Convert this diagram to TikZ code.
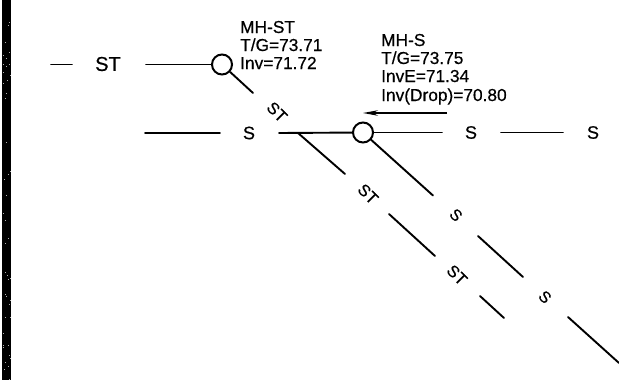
\documentclass[tikz,border=0pt]{standalone}
\usepackage{fontspec}
\setmainfont[FakeBold=0.5]{Liberation Sans}
\usetikzlibrary{arrows.meta}
\newcommand{\lblfont}{\fontsize{17.3}{18.3}\selectfont}
\newcommand{\stfont}{\fontsize{20}{22}\selectfont}
\newcommand{\sfont}{\fontsize{18}{20}\selectfont}
\newcommand{\rotstfont}{\fontsize{16.5}{18}\selectfont}
\newcommand{\rotsfont}{\fontsize{16}{18}\selectfont}
\tikzset{
  pipe/.style={line width=1.9pt,black,line cap=round},
  mh/.style={circle,draw=black,line width=2pt,minimum size=20pt,inner sep=0pt,fill=white},
  tagst/.style={font=\stfont,inner sep=0pt,anchor=center},
  tags/.style={font=\sfont,inner sep=0pt,anchor=center},
  rotst/.style={font=\rotstfont,inner sep=0pt,anchor=center,rotate=-45},
  rots/.style={font=\rotsfont,inner sep=0pt,anchor=center,rotate=-45},
  info/.style={font=\lblfont,inner sep=0pt,anchor=base west,align=left},
  flow/.style={line width=1.5pt,-{Stealth[length=15pt,width=5.5pt]}}
}
\begin{document}
\begin{tikzpicture}[x=1pt,y=-1pt]
\useasboundingbox (0,0) rectangle (619,380);
% scanned edge
\fill[black] (2,0) rectangle (11,380);
\pgfmathsetseed{7}
\foreach \i in {1,...,45}{
  \pgfmathsetmacro{\px}{2.5+8*rnd}
  \pgfmathsetmacro{\py}{380*rnd}
  \fill[white!70!black] (\px,\py) rectangle ++(1,1);
}
% manholes
\node[mh] (mhst) at (222,64.5) {};
\node[mh] (mhs) at (363,132.5) {};
% labels
\node[tagst] (st1) at (108,64) {ST};
\node[rotst] (st2) at (277,112) {ST};
\node[tags] (s1) at (249,133) {S};
\node[tags] (s2) at (471,132.5) {S};
\node[tags] (s3) at (593,132.5) {S};
\node[rotst] (st3) at (368,194) {ST};
\node[rotst] (st4) at (457,275) {ST};
\node[rots] (s4) at (456,215) {S};
\node[rots] (s5) at (545,297) {S};
\node[info] (ist1) at (240,33) {MH-ST};
\node[info] (ist2) at (240,51) {T/G=73.71};
\node[info] (ist3) at (240,69) {Inv=71.72};
\node[info] (is1) at (381,46) {MH-S};
\node[info] (is2) at (381,64) {T/G=73.75};
\node[info] (is3) at (381,82) {InvE=71.34};
\node[info] (is4) at (381,101) {Inv(Drop)=70.80};
% free ends
\coordinate (a1) at (51,64.5);
\coordinate (a2) at (72,64.5);
\coordinate (b1) at (146,64.5);
\coordinate (c1) at (253,93);
\coordinate (d1) at (145,133);
\coordinate (d2) at (220,133);
\coordinate (e1) at (279,133);
\coordinate (f1) at (442,132.5);
\coordinate (g1) at (501,132.5);
\coordinate (g2) at (563,132.5);
\coordinate (h1) at (433,195.5);
\coordinate (i1) at (478,236);
\coordinate (i2) at (523,277);
\coordinate (j1) at (568,317);
\coordinate (j2) at (619,363);
\coordinate (k1) at (298,133);
\coordinate (k2) at (345,174);
\coordinate (l1) at (389,214);
\coordinate (l2) at (435,256);
\coordinate (m1) at (480,296);
\coordinate (m2) at (504,318);
\coordinate (n1) at (447,113);
\coordinate (n2) at (363,113);
% pipes
\draw[pipe] (a1) -- (a2);
\draw[pipe] (b1) -- (mhst);
\draw[pipe] (mhst) -- (c1);
\draw[pipe] (d1) -- (d2);
\draw[pipe] (e1) -- (mhs);
\draw[pipe] (mhs) -- (f1);
\draw[pipe] (g1) -- (g2);
\draw[pipe] (mhs) -- (h1);
\draw[pipe] (i1) -- (i2);
\draw[pipe] (j1) -- (j2);
\draw[pipe] (k1) -- (k2);
\draw[pipe] (l1) -- (l2);
\draw[pipe] (m1) -- (m2);
\draw[flow] (n1) -- (n2);
\end{tikzpicture}
\end{document}
